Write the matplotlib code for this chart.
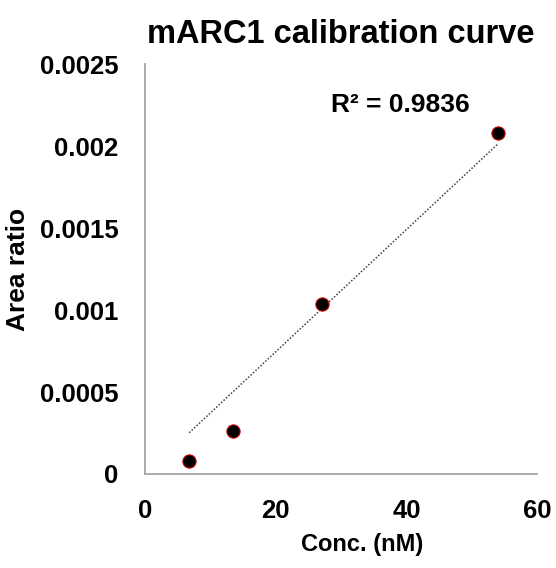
import numpy as np
import matplotlib.pyplot as plt

plt.rcParams['font.family'] = ['Liberation Sans', 'DejaVu Sans']
plt.rcParams['font.weight'] = 'bold'

# calibration points
conc = [6.75, 13.5, 27, 54]
area_ratio = [0.0000793, 0.000262, 0.001037, 0.00208]
x_ticks = [0, 20, 40, 60]
y_ticks = [0, 0.0005, 0.001, 0.0015, 0.002, 0.0025]
y_tick_labels = ['0', '0.0005', '0.001', '0.0015', '0.002', '0.0025']
r2_label = 'R² = 0.9836'

x = np.array(conc)
y = np.array(area_ratio)
# linear trendline forced through the origin
slope = np.sum(x * y) / np.sum(x * x)

fig = plt.figure(figsize=(5.56, 5.68), dpi=100)
ax = fig.add_axes([0.261, 0.1655, 0.705, 0.7215])

xl = np.array([x.min(), x.max()])
ax.plot(xl, slope * xl, linestyle=(0, (1, 1.2)), color='#404040', linewidth=1.1)
ax.scatter(x, y, s=90, color='black', edgecolors='#c00000', linewidths=0.8, zorder=3)

ax.set_xlim(0, 60)
ax.set_ylim(0, 0.0025)
ax.set_xticks(x_ticks)
ax.set_yticks(y_ticks)
ax.set_yticklabels(y_tick_labels)
ax.tick_params(length=0, labelsize=18.5)
ax.tick_params(axis='x', pad=18)
ax.tick_params(axis='y', pad=19)

for s in ['top', 'right']:
    ax.spines[s].set_visible(False)
for s in ['left', 'bottom']:
    ax.spines[s].set_color('#a6a6a6')
    ax.spines[s].set_linewidth(1.3)

ax.set_xlabel('Conc. (nM)', fontsize=17, fontweight='bold')
ax.xaxis.set_label_coords(0.554, -0.145)
ax.set_ylabel('Area ratio', fontsize=19, fontweight='bold', labelpad=7)
ax.set_title('mARC1 calibration curve', fontsize=23.5, fontweight='bold', pad=15)
ax.text(0.65, 0.90, r2_label, transform=ax.transAxes, fontsize=19,
        fontweight='bold', ha='center', va='center')

fig.savefig('out.png', dpi=100)
